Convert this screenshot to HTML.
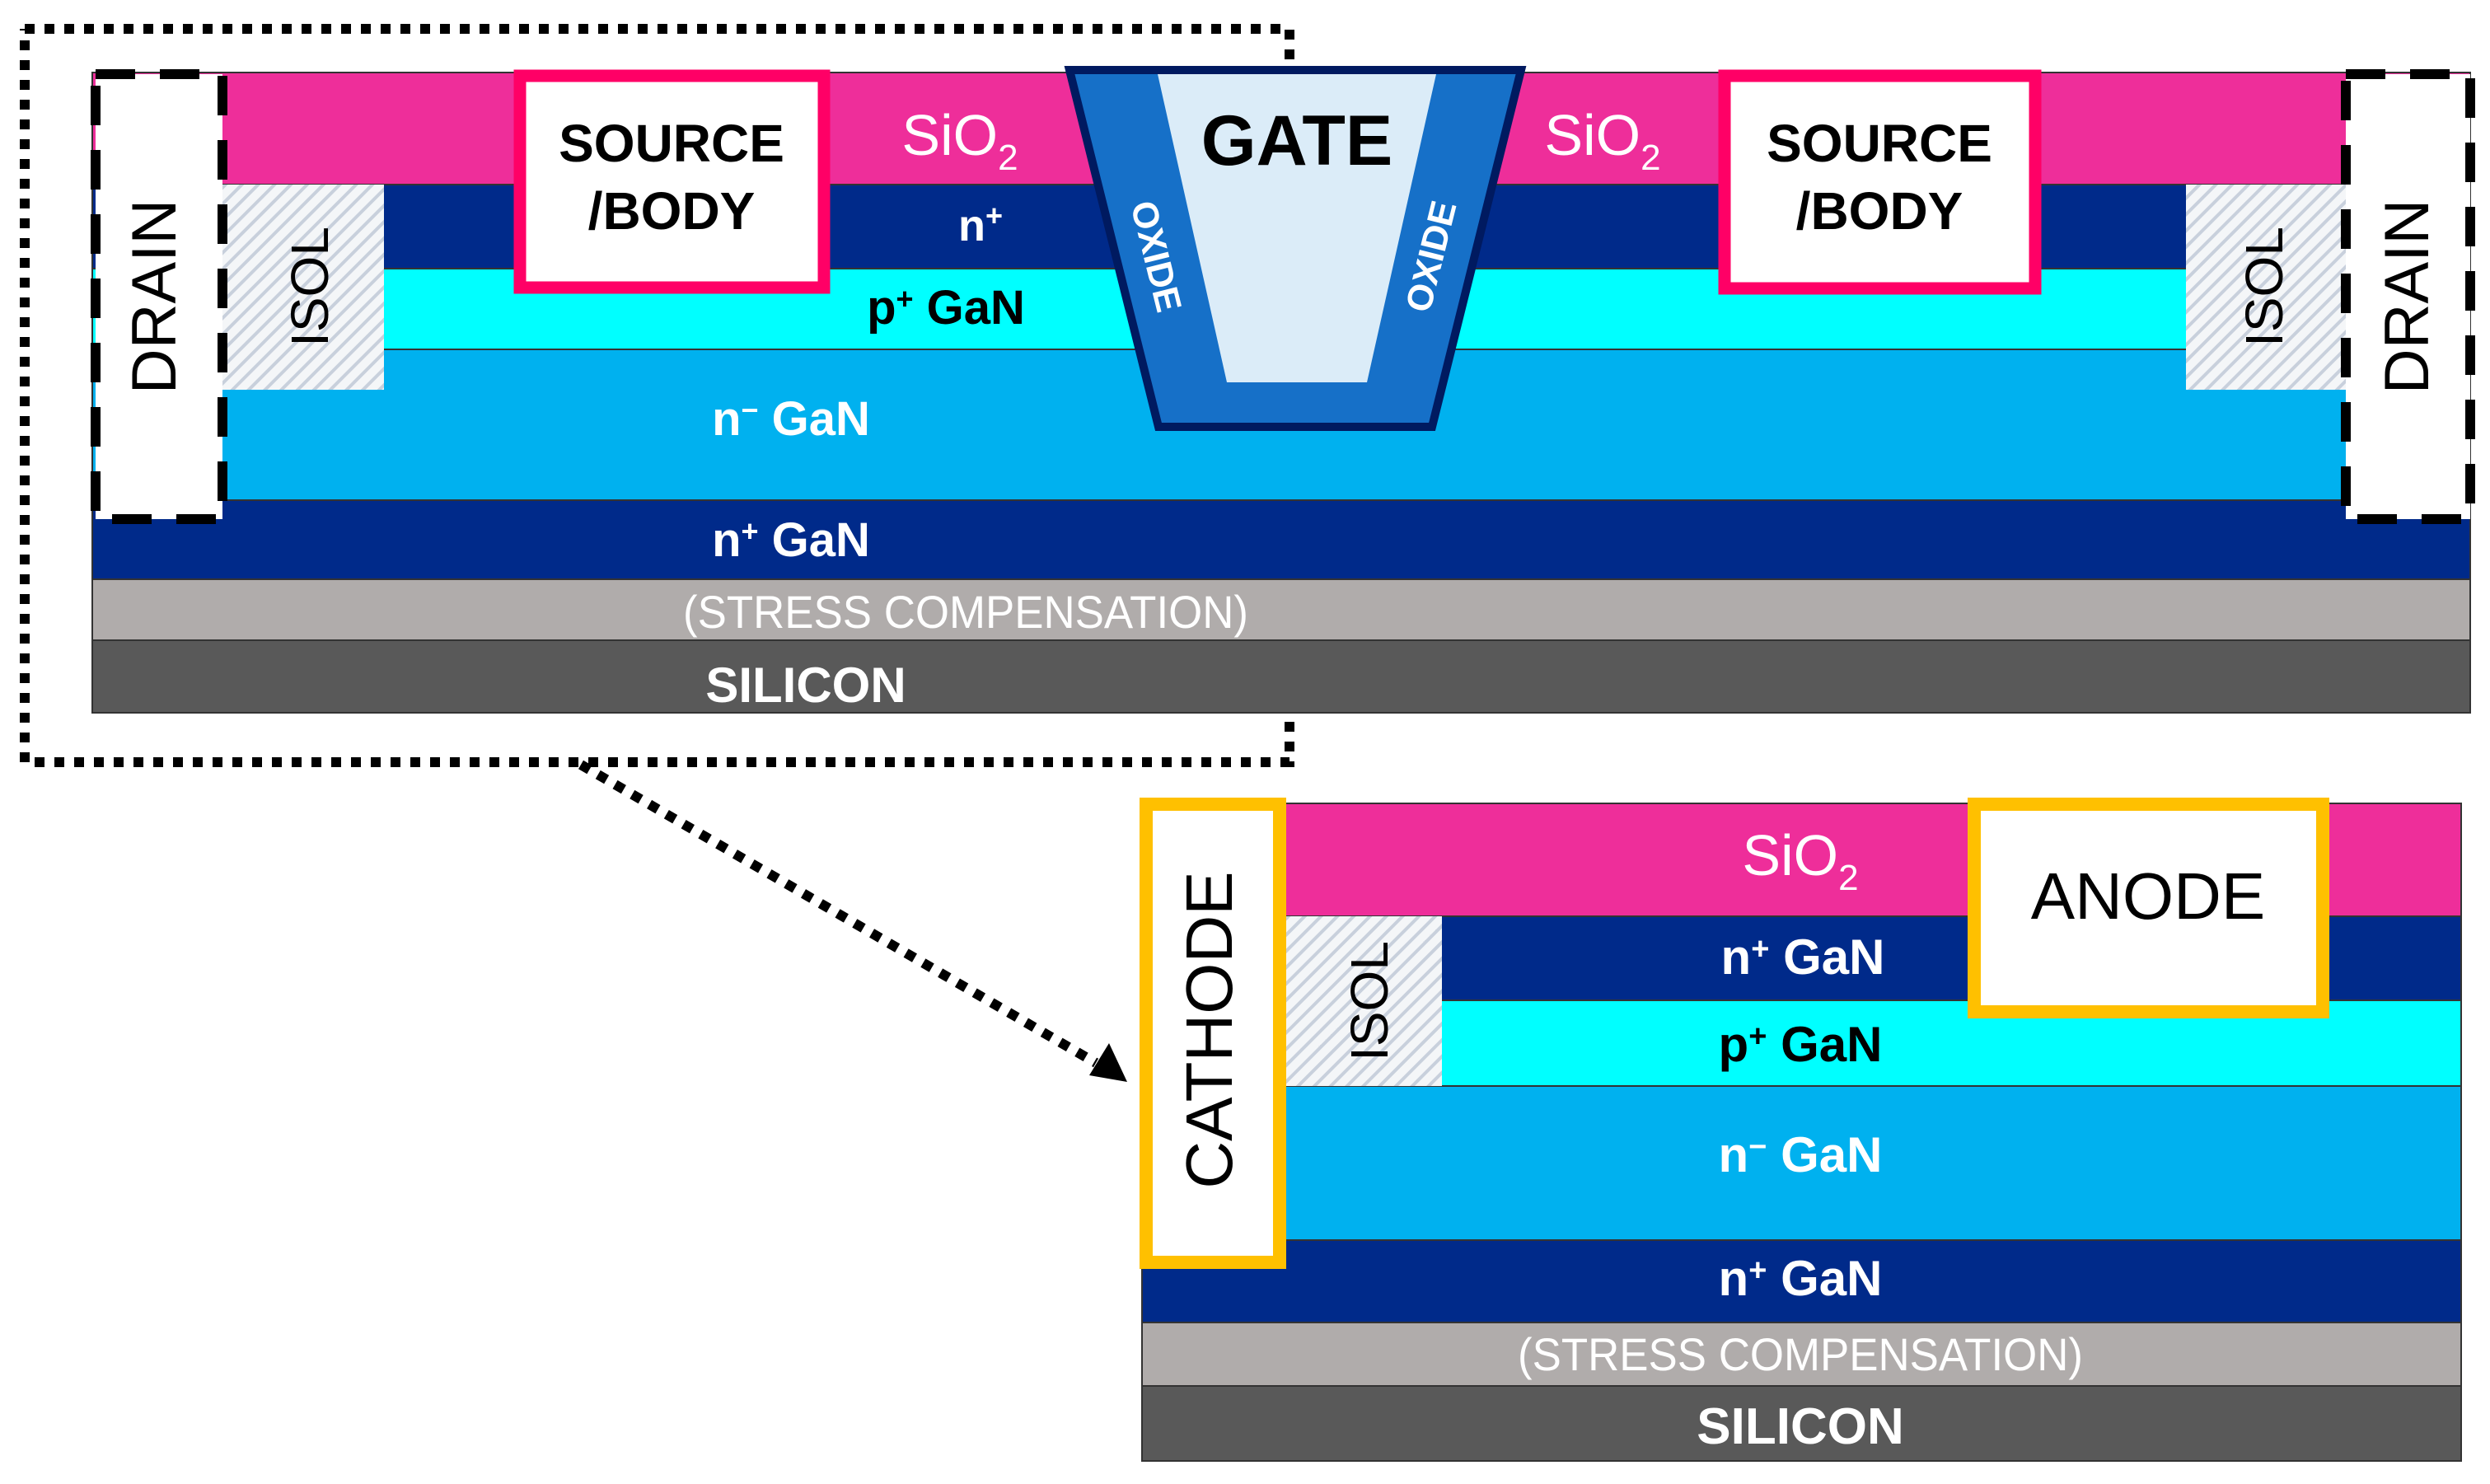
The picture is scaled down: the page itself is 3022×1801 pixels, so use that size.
<!DOCTYPE html>
<html><head><meta charset="utf-8"><style>html,body{margin:0;padding:0;background:#fff}svg{display:block}</style></head><body>
<svg width="3022" height="1801" viewBox="0 0 3022 1801" xmlns="http://www.w3.org/2000/svg" font-family="'Liberation Sans', sans-serif">
<defs>
<pattern id="h" width="14" height="14" patternUnits="userSpaceOnUse" patternTransform="rotate(45)">
<rect width="14" height="14" fill="#f4f6f8"/><rect width="4" height="14" fill="#c8d0dc"/>
</pattern>
</defs>
<!-- dotted box (behind) -->
<polyline points="30,35 1565,35 1565,925 30,925 30,35" fill="none" stroke="#000" stroke-width="12" stroke-dasharray="12,12"/>
<line x1="705" y1="928" x2="1330" y2="1290" stroke="#000" stroke-width="12" stroke-dasharray="12,12"/>
<polygon points="1368,1313 1322,1305 1346,1266" fill="#000"/>
<!-- TOP DEVICE -->
<g stroke="#333" stroke-width="2">
<rect x="112" y="88" width="2886" height="136" fill="#ee2e9a"/>
<rect x="112" y="224" width="2886" height="102" fill="#002a8a"/>
<rect x="112" y="326" width="2886" height="98" fill="#00ffff"/>
<rect x="112" y="424" width="2886" height="183" fill="#00b1ef"/>
<rect x="112" y="607" width="2886" height="96" fill="#002a8a"/>
<rect x="112" y="703" width="2886" height="74" fill="#b0acab"/>
<rect x="112" y="777" width="2886" height="88" fill="#595959"/>
</g>
<rect x="270" y="224" width="196" height="249" fill="url(#h)"/>
<rect x="2653" y="224" width="194" height="249" fill="url(#h)"/>
<rect x="116" y="90" width="154" height="540" fill="#fff"/>
<rect x="2847" y="90" width="151" height="540" fill="#fff"/>
<rect x="116" y="90" width="154" height="540" fill="none" stroke="#000" stroke-width="12" stroke-dasharray="48,30"/>
<rect x="2847" y="90" width="151" height="540" fill="none" stroke="#000" stroke-width="12" stroke-dasharray="48,30"/>
<!-- source boxes -->
<rect x="631" y="92" width="369" height="257" fill="#fff" stroke="#ff0066" stroke-width="15"/>
<rect x="2093" y="92" width="377" height="258" fill="#fff" stroke="#ff0066" stroke-width="15"/>
<g font-weight="bold" font-size="64" text-anchor="middle" fill="#000">
<text x="815" y="196">SOURCE</text><text x="815" y="278">/BODY</text>
<text x="2281" y="196">SOURCE</text><text x="2281" y="278">/BODY</text>
</g>
<!-- gate -->
<polygon points="1298,85 1846,85 1738,518 1406,518" fill="#1670c8" stroke="#001a60" stroke-width="10" stroke-linejoin="miter"/>
<polygon points="1405,90 1743,90 1659,464 1489,464" fill="#dbecf8"/>
<text x="1574" y="200" font-size="86" font-weight="bold" text-anchor="middle">GATE</text>
<text transform="translate(1400,312) rotate(76)" font-size="44" font-weight="bold" fill="#fff" text-anchor="middle" dominant-baseline="middle">OXIDE</text>
<text transform="translate(1740,312) rotate(-76)" font-size="44" font-weight="bold" fill="#fff" text-anchor="middle" dominant-baseline="middle">OXIDE</text>
<!-- labels top -->
<g text-anchor="middle">
<text x="1165" y="188" font-size="70" fill="#fff">SiO<tspan font-size="44" dy="18">2</tspan></text>
<text x="1945" y="188" font-size="70" fill="#fff">SiO<tspan font-size="44" dy="18">2</tspan></text>
<text x="1190" y="292" font-size="54" font-weight="bold" fill="#fff">n<tspan font-size="36" dy="-18">+</tspan></text>
<text x="1148" y="393" font-size="58" font-weight="bold" fill="#000">p<tspan font-size="36" dy="-18">+</tspan><tspan dy="18"> GaN</tspan></text>
<text x="960" y="528" font-size="58" font-weight="bold" fill="#fff">n<tspan font-size="36" dy="-18">−</tspan><tspan dy="18"> GaN</tspan></text>
<text x="960" y="675" font-size="58" font-weight="bold" fill="#fff">n<tspan font-size="36" dy="-18">+</tspan><tspan dy="18"> GaN</tspan></text>
<text x="1172" y="762" font-size="56" fill="#fff" textLength="686" lengthAdjust="spacingAndGlyphs">(STRESS COMPENSATION)</text>
<text x="978" y="852" font-size="60" font-weight="bold" fill="#fff">SILICON</text>
</g>
<text transform="translate(213,360) rotate(-90)" font-size="76" text-anchor="middle">DRAIN</text>
<text transform="translate(2947,360) rotate(-90)" font-size="76" text-anchor="middle">DRAIN</text>
<text transform="translate(398,348) rotate(-90)" font-size="64" text-anchor="middle">ISOL</text>
<text transform="translate(2770,348) rotate(-90)" font-size="64" text-anchor="middle">ISOL</text>
<!-- BOTTOM DEVICE -->
<g stroke="#333" stroke-width="2">
<rect x="1386" y="975" width="1601" height="137" fill="#ee2e9a"/>
<rect x="1386" y="1112" width="1601" height="102" fill="#002a8a"/>
<rect x="1386" y="1214" width="1601" height="104" fill="#00ffff"/>
<rect x="1386" y="1318" width="1601" height="187" fill="#00b1ef"/>
<rect x="1386" y="1505" width="1601" height="100" fill="#002a8a"/>
<rect x="1386" y="1605" width="1601" height="77" fill="#b0acab"/>
<rect x="1386" y="1682" width="1601" height="91" fill="#595959"/>
</g>
<rect x="1553" y="1112" width="197" height="206" fill="url(#h)"/>
<rect x="1391" y="976" width="162" height="556" fill="#fff" stroke="#ffc000" stroke-width="16"/>
<rect x="2396" y="976" width="423" height="252" fill="#fff" stroke="#ffc000" stroke-width="16"/>
<text transform="translate(1495,1250) rotate(-90)" font-size="80" text-anchor="middle">CATHODE</text>
<text transform="translate(1684,1215) rotate(-90)" font-size="64" text-anchor="middle">ISOL</text>
<text x="2607" y="1115" font-size="80" text-anchor="middle">ANODE</text>
<g text-anchor="middle">
<text x="2185" y="1062" font-size="70" fill="#fff">SiO<tspan font-size="44" dy="18">2</tspan></text>
<text x="2188" y="1182" font-size="60" font-weight="bold" fill="#fff">n<tspan font-size="38" dy="-18">+</tspan><tspan dy="18"> GaN</tspan></text>
<text x="2185" y="1288" font-size="60" font-weight="bold" fill="#000">p<tspan font-size="38" dy="-18">+</tspan><tspan dy="18"> GaN</tspan></text>
<text x="2185" y="1422" font-size="60" font-weight="bold" fill="#fff">n<tspan font-size="38" dy="-18">−</tspan><tspan dy="18"> GaN</tspan></text>
<text x="2185" y="1572" font-size="60" font-weight="bold" fill="#fff">n<tspan font-size="38" dy="-18">+</tspan><tspan dy="18"> GaN</tspan></text>
<text x="2185" y="1663" font-size="56" fill="#fff" textLength="686" lengthAdjust="spacingAndGlyphs">(STRESS COMPENSATION)</text>
<text x="2185" y="1752" font-size="62" font-weight="bold" fill="#fff">SILICON</text>
</g>
</svg>
</body></html>
